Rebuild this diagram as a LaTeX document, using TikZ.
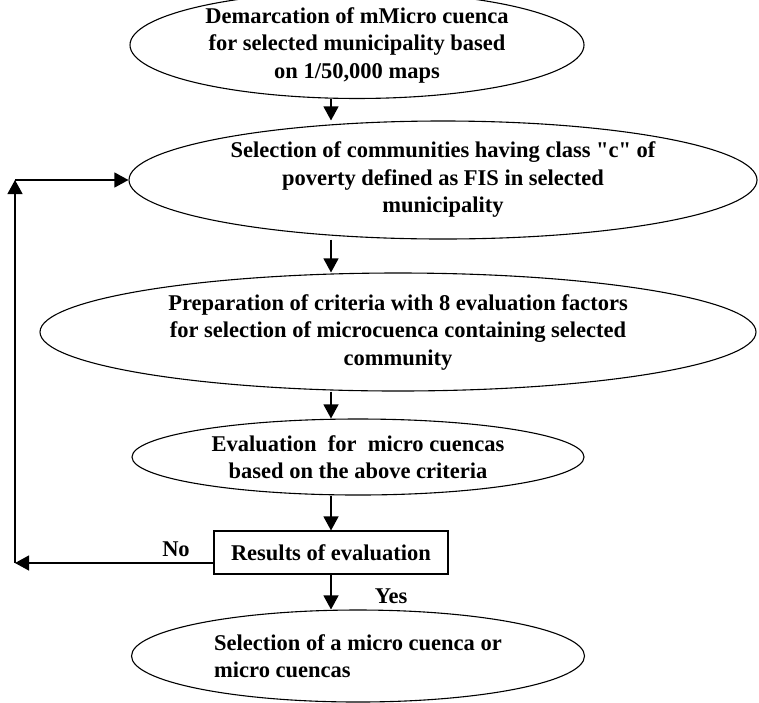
\documentclass[tikz,border=0pt]{standalone}
\usepackage{fontspec}
\setmainfont{Liberation Serif}[Ligatures=TeXOff]
\usetikzlibrary{shapes.geometric,arrows.meta}

\newcommand{\stagefont}{\fontsize{22.5}{27.5}\selectfont\bfseries}

\tikzset{
  stage/.style={ellipse, draw, line width=1.1pt, inner sep=0pt, align=center, font=\stagefont},
  resbox/.style={rectangle, draw, line width=1.1pt, inner sep=0pt, font=\stagefont},
  flow/.style={line width=1.2pt, -{Triangle[length=14pt,width=15pt]}},
  answer/.style={font=\stagefont}
}

\begin{document}
\begin{tikzpicture}[x=1pt,y=-1pt]
\useasboundingbox (0,0) rectangle (759,702);

% Stages of the selection
\node[stage, minimum width=454pt, minimum height=100pt] (demarc) at (357,45)
  {Demarcation of mMicro cuenca\\for selected municipality based\\on 1/50,000 maps};
\node[stage, minimum width=628pt, minimum height=118pt] (commsel) at (443,180)
  {Selection of communities having class "c" of\\poverty defined as FIS in selected\\municipality};
\node[stage, minimum width=716pt, minimum height=118pt] (criteria) at (398,332)
  {Preparation of criteria with 8 evaluation factors\\for selection of microcuenca containing selected\\community};
\node[stage, minimum width=452pt, minimum height=76pt] (evalmc) at (358,457)
  {Evaluation \ for \ micro cuencas\\based on the above criteria};
\node[resbox, minimum width=234pt, minimum height=43pt] (results) at (331,552.5)
  {Results of evaluation};
\node[stage, align=left, minimum width=453pt, minimum height=92pt] (mcsel) at (358,656)
  {Selection of a micro cuenca or\\micro cuencas};

% Labels of the decision
\node[answer] (no) at (176,549) {No};
\node[answer] (yes) at (391,596) {Yes};

% Corners of the loop back
\coordinate (nocorner) at (15,563);
\coordinate (upcorner) at (commsel.west -| nocorner);

% Main flow
\draw[flow] (demarc.south -| results.center) -- (commsel.north -| results.center);
\draw[flow] (commsel.south -| results.center) -- (criteria.north -| results.center);
\draw[flow] (criteria.south -| results.center) -- (evalmc.north -| results.center);
\draw[flow] (evalmc.south -| results.center) -- (results.north);
\draw[flow] (results.south) -- (mcsel.north -| results.center);

% Loop back when the answer is no
\draw[flow] (results.west |- nocorner) -- (nocorner);
\draw[flow] (nocorner) -- (upcorner);
\draw[flow] (upcorner) -- (commsel.west);

\end{tikzpicture}
\end{document}
